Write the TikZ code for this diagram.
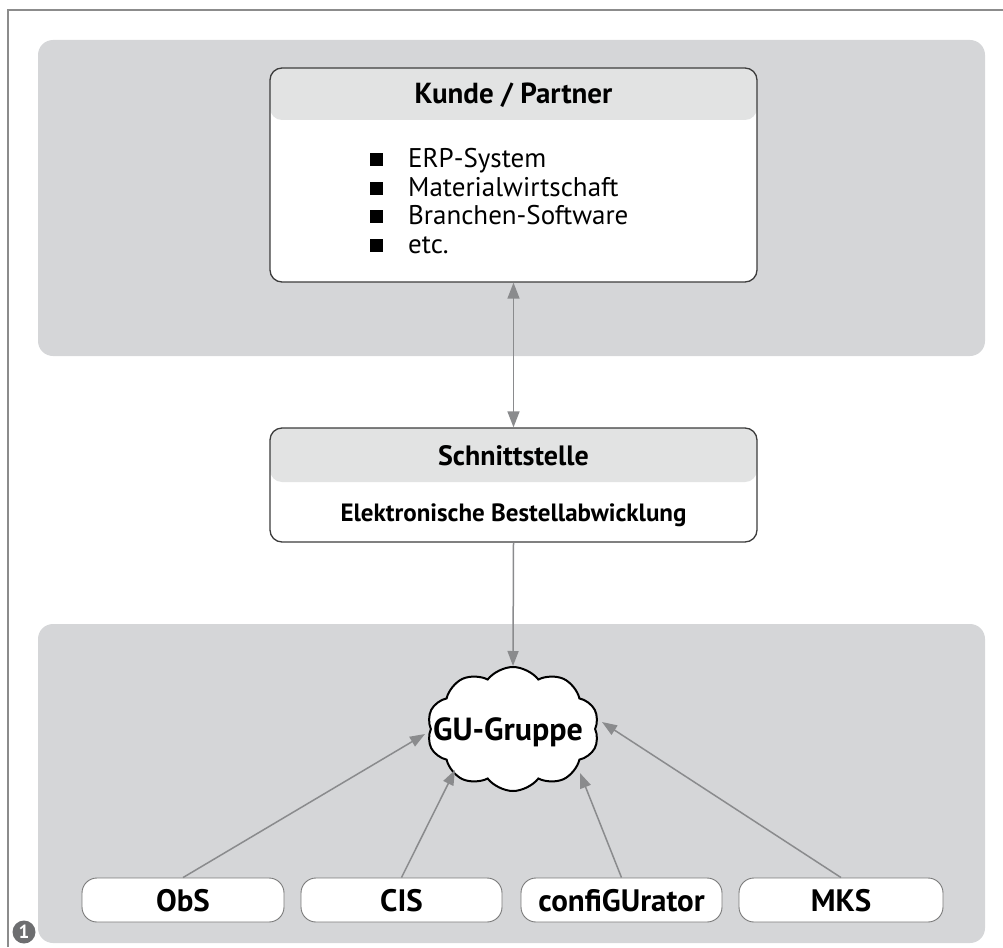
\documentclass[tikz,border=0pt]{standalone}
\usepackage{fontspec}
\setmainfont{PT Sans}
\usetikzlibrary{shapes.symbols,arrows.meta,calc}
\definecolor{panel}{HTML}{D5D6D8}
\definecolor{headgray}{HTML}{E2E3E3}
\definecolor{arrgray}{HTML}{8A8B8D}
\definecolor{framegray}{HTML}{8C8C8C}
\definecolor{boxline}{HTML}{3C3C3C}
\definecolor{markgray}{HTML}{6D6E70}
\definecolor{smallline}{HTML}{7A7A7A}
\tikzset{
  panelbox/.style={fill=panel, rounded corners=15pt},
  bigbox/.style={draw=boxline, line width=1.3pt, fill=white, rounded corners=12pt,
    minimum width=487pt, inner sep=0pt,
    path picture={\fill[headgray] (path picture bounding box.north west) rectangle ([yshift=-#1]path picture bounding box.north east);}},
  smallbox/.style={draw=smallline, line width=0.9pt, fill=white, rounded corners=15pt,
    minimum height=44pt, inner sep=0pt, text height=22pt, text depth=0pt,
    font=\bfseries\fontsize{31}{34}\selectfont},
  titletext/.style={anchor=base, inner sep=0pt, font=\bfseries\fontsize{#1}{#1}\selectfont},
  itemtext/.style={anchor=base west, inner sep=0pt, font=\fontsize{27}{29}\selectfont},
  conn/.style={draw=arrgray, line width=1.5pt},
  onearrow/.style={conn, -{Triangle[length=15pt,width=11pt]}},
  twoarrow/.style={conn, {Triangle[length=16pt,width=12pt]}-{Triangle[length=16pt,width=12pt]}},
}
\newcommand{\sqbullet}{\makebox[38pt][l]{\raisebox{1.5pt}{\rule{13pt}{13pt}}}}
\begin{document}
\begin{tikzpicture}[x=1pt,y=-1pt]
\useasboundingbox (0,0) rectangle (1003,947);
% frame
\draw[framegray, line width=1.5pt] (8,947) -- (8,10) -- (1003,10);
% panels
\fill[panelbox] (38,40) rectangle (985,356);
\fill[panelbox] (38,624) rectangle (985,943);
% Kunde / Partner
\node[bigbox=52pt, minimum height=214pt] (kunde) at (513.5,175) {};
\node[titletext=29] (kundetitle) at (513.5,104) {Kunde / Partner};
\node[itemtext] (i1) at (370,167) {\sqbullet ERP-System};
\node[itemtext] (i2) at (370,196) {\sqbullet Materialwirtschaft};
\node[itemtext] (i3) at (370,224) {\sqbullet Branchen-Software};
\node[itemtext] (i4) at (370,253) {\sqbullet etc.};
% Schnittstelle
\node[bigbox=54pt, minimum height=114pt] (schnitt) at (513.5,485) {};
\node[titletext=28] (schnitttitle) at (513.5,465) {Schnittstelle};
\node[titletext=25] (schnittsub) at (513.5,521) {Elektronische Bestellabwicklung};
% cloud
\node[cloud, cloud puffs=10, cloud puff arc=105, cloud ignores aspect, draw=black, line width=2pt, fill=white,
  minimum width=172pt, minimum height=124pt, inner sep=0pt] (gu) at (513,729) {};
\node[titletext=32] (gutext) at (508,740) {GU-Gruppe};
% bottom boxes
\node[smallbox, minimum width=202pt] (obs) at (183,900) {ObS};
\node[smallbox, minimum width=201pt] (cis) at (401.5,900) {CIS};
\node[smallbox, minimum width=201pt] (cfg) at (621.5,900) {confiGUrator};
\node[smallbox, minimum width=204pt] (mks) at (841,900) {MKS};
% arrow targets on the cloud
\coordinate (tobs) at (425,734);
\coordinate (tcis) at (455,770);
\coordinate (tcfg) at (580,773);
\coordinate (tmks) at (602,722);
% connectors
\draw[twoarrow] (kunde.south) -- (schnitt.north);
\draw[onearrow] (schnitt.south) -- (gu.north);
\draw[onearrow] (obs.north) -- (tobs);
\draw[onearrow] (cis.north) -- (tcis);
\draw[onearrow] (cfg.north) -- (tcfg);
\draw[onearrow] (mks.north) -- (tmks);
% marker
\node[circle, fill=markgray, minimum size=23pt, inner sep=0pt, text=white,
  font=\bfseries\fontsize{19}{19}\selectfont] (marker) at (24,932) {1};
\end{tikzpicture}
\end{document}
